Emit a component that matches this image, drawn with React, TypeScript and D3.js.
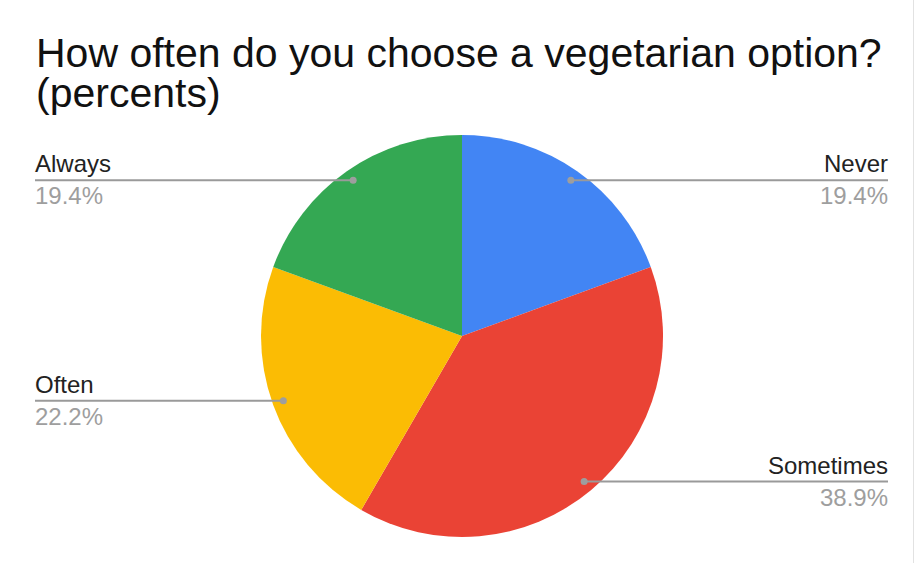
import React from "react";
import * as d3 from "d3";

const categories = ["Never", "Sometimes", "Often", "Always"];
const values = [19.4, 38.9, 22.2, 19.4];
const colors = ["#4285F4", "#EA4335", "#FBBC04", "#34A853"];
const titleLines = ["How often do you choose a vegetarian option?", "(percents)"];

const W = 917;
const H = 563;
const cx = 462;
const cy = 336;
const R = 201;
const labelR = 190;
const leftX = 35;
const rightX = 888;
const FONT = "'Liberation Sans', Arial, Helvetica, sans-serif";

export default function App() {
  const data = categories.map((c, i) => ({ c, v: values[i], color: colors[i] }));
  const pie = d3.pie<any>().sort(null).value((d: any) => d.v);
  const arcs = pie(data);
  const arc = d3.arc<any>().innerRadius(0).outerRadius(R);
  const labelArc = d3.arc<any>().innerRadius(labelR).outerRadius(labelR);

  return (
    <svg
      width={W}
      height={H}
      style={{ position: "absolute", left: 0, top: 0, background: "#fff" }}
      fontFamily={FONT}
    >
      <rect x={0} y={0} width={W} height={H} fill="#fff" />
      <line x1={913.5} x2={913.5} y1={0} y2={H} stroke="#e2e2e2" strokeWidth={1} />
      {titleLines.map((t, i) => (
        <text key={i} x={36} y={67 + i * 40} fontSize={41} fill="#111">
          {t}
        </text>
      ))}
      <g transform={`translate(${cx},${cy})`}>
        {arcs.map((a, i) => (
          <path key={i} d={arc(a) as string} fill={a.data.color} />
        ))}
      </g>
      {arcs.map((a, i) => {
        const [px, py] = labelArc.centroid(a);
        const x = cx + px;
        const y = cy + py;
        const right = px > 0;
        const endX = right ? rightX : leftX;
        const anchor = right ? "end" : "start";
        return (
          <g key={i}>
            <line x1={x} x2={endX} y1={y} y2={y} stroke="#9a9a9a" strokeWidth={2} />
            <circle cx={x} cy={y} r={3.5} fill="#9e9e9e" />
            <text x={endX} y={y - 8} textAnchor={anchor} fontSize={24} fill="#222">
              {a.data.c}
            </text>
            <text x={endX} y={y + 24} textAnchor={anchor} fontSize={24} fill="#9e9e9e">
              {a.data.v.toFixed(1)}%
            </text>
          </g>
        );
      })}
    </svg>
  );
}
